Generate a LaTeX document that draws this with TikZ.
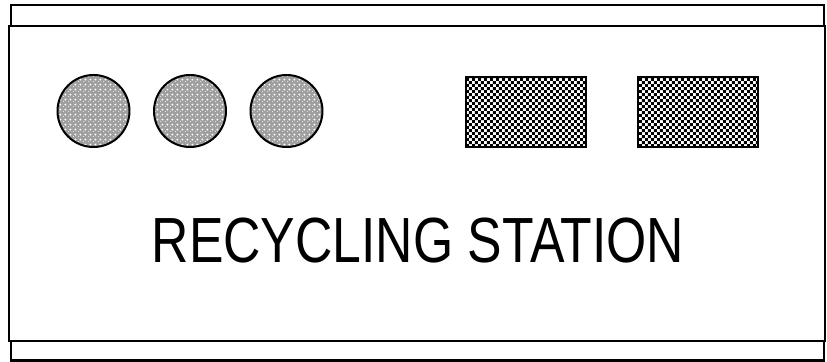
\documentclass[tikz,border=0pt]{standalone}
\usepackage{fontspec}
\setmainfont{Liberation Sans}
\usetikzlibrary{patterns.meta}

\tikzdeclarepattern{
  name=dotgrid,
  type=uncolored,
  bounding box={(0,0) and (4.6pt,4.6pt)},
  tile size={(4.6pt,4.6pt)},
  code={
    \fill (0,0) circle (1pt);
    \fill (2.3pt,2.3pt) circle (1pt);
  }
}
\tikzdeclarepattern{
  name=checks,
  type=uncolored,
  bounding box={(0,0) and (5.1pt,5.1pt)},
  tile size={(5.1pt,5.1pt)},
  code={
    \fill (0,0) rectangle (2.55pt,2.55pt);
    \fill (2.55pt,2.55pt) rectangle (5.1pt,5.1pt);
  }
}

\begin{document}
\begin{tikzpicture}[x=0.03cm, y=-0.03cm,
    strip/.style={line width=1.8pt},
    bin/.style={line width=1.7pt, preaction={fill=gray!75}, pattern=dotgrid, pattern color=white},
    crate/.style={line width=1.7pt, preaction={fill=white}, pattern=checks, pattern color=black}]
    \useasboundingbox (0,0) rectangle (827,362);
    % station body and the two rails
    \draw[line width=1.4pt] (9,26) rectangle (825,341);
    \draw[strip] (11,5) rectangle (824,26);
    \draw[strip] (11,341) rectangle (824,360.5);
    % round bins
    \foreach \x in {93.5,190,286.5}
        \draw[bin] (\x,111) circle (36);
    % square bins
    \foreach \x in {466,638}
        \draw[crate] (\x,77) rectangle ++(120,70);
    \node[xscale=0.81, inner sep=0pt] (title) at (418,241)
        {\fontsize{54.5}{60}\selectfont RECYCLING STATION};
\end{tikzpicture}
\end{document}
